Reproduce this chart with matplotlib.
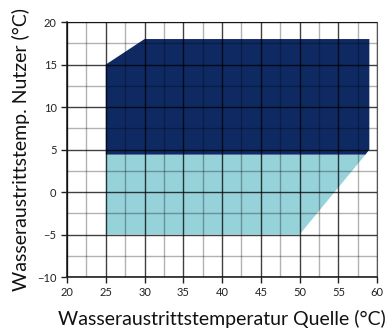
import matplotlib
matplotlib.use("Agg")
import matplotlib.pyplot as plt
from matplotlib.patches import Polygon

# Operating envelope data
dark_x = [25, 25, 30, 59, 59, 58.5]
dark_y = [4.4, 15, 18, 18, 5, 4.4]
light_x = [25, 50, 58.5, 25]
light_y = [-5, -5, 4.4, 4.4]
xticks = [20, 25, 30, 35, 40, 45, 50, 55, 60]
yticks = [-10, -5, 0, 5, 10, 15, 20]

plt.rcParams['font.family'] = ['Lato', 'DejaVu Sans']
fig = plt.figure(figsize=(3.92, 3.29), dpi=100)
ax = fig.add_axes([0.171, 0.158, 0.791, 0.775])

ax.add_patch(Polygon(list(zip(light_x, light_y)), closed=True, facecolor='#96d2d9', edgecolor='none', zorder=1))
ax.add_patch(Polygon(list(zip(dark_x, dark_y)), closed=True, facecolor='#0f2a62', edgecolor='none', zorder=1))

ax.set_xlim(20, 60)
ax.set_ylim(-10, 20)
ax.set_xticks(xticks)
ax.set_yticks(yticks)
ax.set_xticks([22.5 + 5 * i for i in range(8)], minor=True)
ax.set_yticks([-7.5 + 5 * i for i in range(6)], minor=True)
ax.grid(which='major', color='black', linewidth=1.0, alpha=0.75, zorder=2)
ax.grid(which='minor', color='black', linewidth=1.0, alpha=0.3, zorder=2)
ax.set_axisbelow(False)
ax.tick_params(which='minor', length=0)
ax.tick_params(which='major', length=4, width=1, colors='#222222', labelsize=8, labelcolor='#222222')
for s in ['top', 'right']:
    ax.spines[s].set_color('#555555')
for s in ['left', 'bottom']:
    ax.spines[s].set_color('#222222')
    ax.spines[s].set_linewidth(1.2)

ax.set_xlabel('Wasseraustrittstemperatur Quelle (°C)', fontsize=14, color='#111111', labelpad=8)
ax.set_ylabel('Wasseraustrittstemp. Nutzer (°C)', fontsize=14, color='#111111', labelpad=5)

fig.savefig('out.png', dpi=100)
